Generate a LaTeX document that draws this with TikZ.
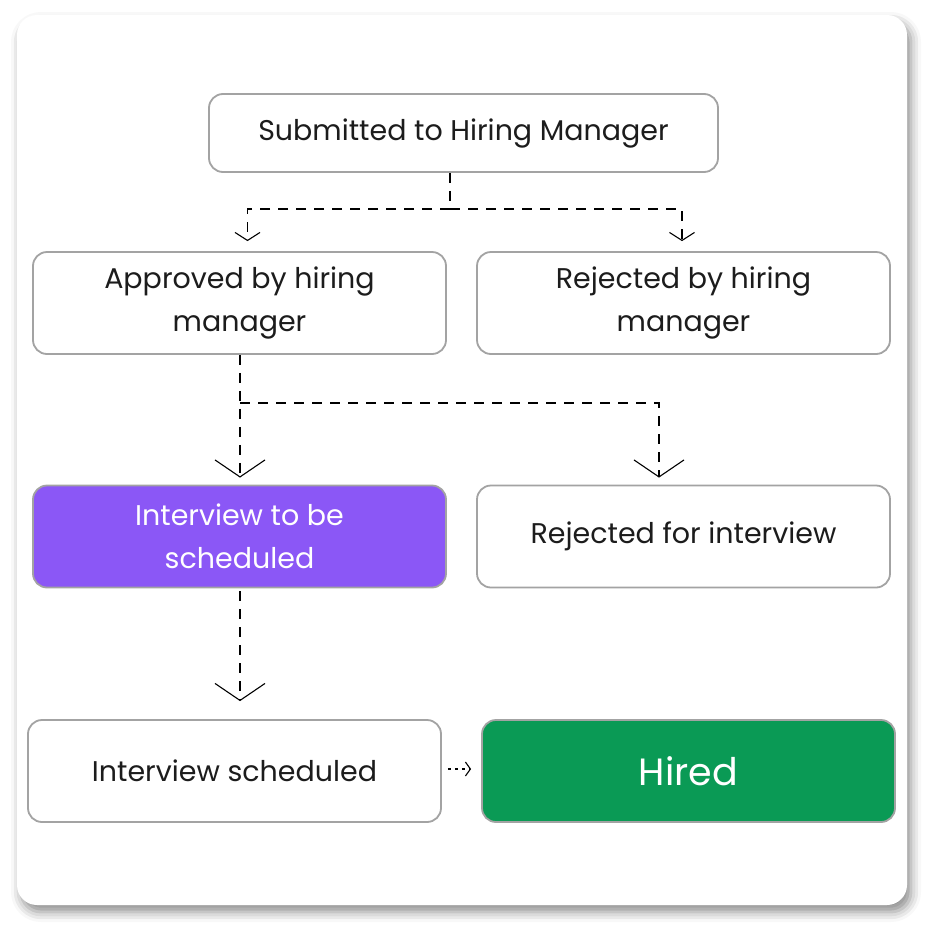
\documentclass[tikz,border=0pt]{standalone}
\usepackage{fontspec}
\setmainfont{Poppins}
\usetikzlibrary{arrows.meta,shadows.blur}
\definecolor{boxline}{HTML}{A3A3A3}
\definecolor{ink}{HTML}{1C1C1C}
\definecolor{violet}{HTML}{8B57F6}
\definecolor{hiregreen}{HTML}{0A9A55}
\begin{document}
\begin{tikzpicture}[x=1pt,y=-1pt]
\useasboundingbox (0,0) rectangle (932,932);

% card
\fill[white,rounded corners=20pt,
  blur shadow={shadow xshift=4pt,shadow yshift=-7pt,shadow blur radius=10pt,shadow opacity=45}]
  (17,15) rectangle (907,905);

\tikzstyle{stage}=[shape=rectangle,draw=boxline,line width=1.8pt,rounded corners=14pt,
  fill=white,text=ink,minimum width=413pt,minimum height=102pt,inner sep=0pt,
  align=center,font=\fontsize{28.5}{43}\selectfont]
\tikzstyle{flow}=[draw=black,dash pattern=on 10pt off 8pt,line width=1.6pt,line join=miter]

% points
\path (463.5,133) node[stage,minimum width=509pt,minimum height=78pt] (Submitted) {Submitted to Hiring Manager};
\path (239.5,303) node[stage] (Approved) {Approved by hiring\\manager};
\path (683.5,303) node[stage] (RejectedHM) {Rejected by hiring\\manager};
\path (239.5,536.5) node[stage,fill=violet,text=white] (ToSchedule) {Interview to be\\scheduled};
\path (683.5,536.5) node[stage] (RejectedIV) {Rejected for interview};
\path (234.5,771) node[stage] (Scheduled) {Interview scheduled};
\path (688.5,771) node[stage,fill=hiregreen,text=white,font=\fontsize{38}{42}\selectfont] (Hired) {Hired};

% splits
\coordinate (split1) at (450,209);
\coordinate (split2) at (240,403);

% edges
\draw[flow,-{Straight Barb[length=8pt,width=25pt,line width=1.1pt]},shorten >=10pt]
  (Submitted.south -| split1) -- (split1) -| ([xshift=8pt]Approved.north);
\draw[flow,-{Straight Barb[length=8pt,width=25pt,line width=1.1pt]},shorten >=10pt]
  (split1) -| ([xshift=-1.5pt]RejectedHM.north);
\draw[flow,-{Straight Barb[length=17pt,width=50pt,line width=1.1pt]},shorten >=7pt]
  (Approved.south -| split2) -- (split2) -- (ToSchedule.north -| split2);
\draw[flow,-{Straight Barb[length=17pt,width=50pt,line width=1.1pt]},shorten >=7pt]
  (split2) -| ([xshift=-24.5pt]RejectedIV.north);
\draw[flow,-{Straight Barb[length=17pt,width=50pt,line width=1.1pt]},shorten <=3pt,shorten >=18pt]
  (ToSchedule.south -| split2) -- (Scheduled.north -| split2);
\draw[draw=black,dash pattern=on 3pt off 4pt,line width=1.4pt,
  -{Straight Barb[length=5pt,width=14pt,line width=1.1pt]},shorten <=6pt,shorten >=10pt]
  ([yshift=2pt]Scheduled.east) -- ([yshift=2pt]Hired.west);

\end{tikzpicture}
\end{document}
